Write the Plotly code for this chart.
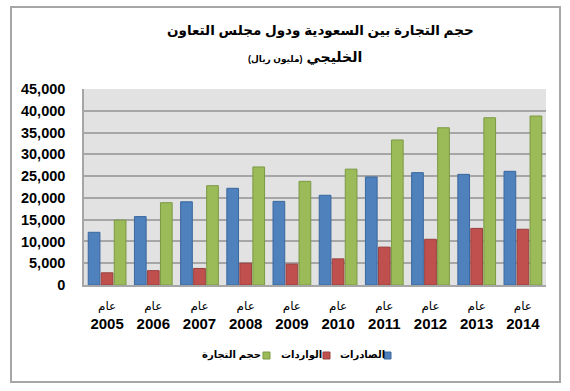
import plotly.graph_objects as go

years = ["2005", "2006", "2007", "2008", "2009", "2010", "2011", "2012", "2013", "2014"]
year_prefix = "عام"
exports = [12100, 15700, 19100, 22200, 19200, 20600, 24800, 25800, 25400, 26100]
imports = [2800, 3300, 3800, 5000, 4800, 6000, 8700, 10500, 13000, 12800]
trade = [14900, 18900, 22800, 27100, 23800, 26600, 33300, 36100, 38400, 38800]
series_names = ["الصادرات", "الواردات", "حجم التجارة"]
title_line1 = "حجم التجارة بين السعودية ودول مجلس التعاون"
title_line2a = "الخليجي"
title_line2b = "(مليون ريال)"

W, H = 570, 391
L, R, T, B = 84, 546, 89, 285
FONT = "Liberation Sans, Arial, DejaVu Sans"


def px(p):
    return (p - L) / (R - L)


def py(p):
    return (B - p) / (B - T)


colors = ["#4F81BD", "#C0504D", "#9BBB59"]
borders = ["#3A679E", "#98403D", "#7A9A43"]
values = [exports, imports, trade]

fig = go.Figure()
for name, vals, c, bc in zip(series_names, values, colors, borders):
    fig.add_trace(go.Bar(x=years, y=vals, name=name, marker=dict(color=c, line=dict(color=bc, width=1)),
                         showlegend=False))

ticktext = [f"<span style='font-size:12px;font-weight:normal'>{year_prefix}</span><br><b>{y}</b>" for y in years]

fig.update_layout(
    width=W, height=H,
    margin=dict(l=L, r=W - R, t=T, b=H - B, pad=0),
    paper_bgcolor="white",
    plot_bgcolor="#E2E2E2",
    barmode="group",
    bargap=0.155,
    bargroupgap=0.1,
    font=dict(family=FONT, color="black"),
    xaxis=dict(tickvals=years, ticktext=ticktext, tickfont=dict(family=FONT, size=15, weight="bold"),
               showline=True, linecolor="#A6A6A6", linewidth=1.5, ticks="", showgrid=False,
               ticklabelstandoff=5),
    yaxis=dict(range=[0, 45000], dtick=5000, tickformat=",",
               tickfont=dict(family=FONT, size=14.5, weight="bold"),
               showgrid=True, gridcolor="#A6A6A6", gridwidth=1.5, zeroline=False,
               showline=True, linecolor="#A6A6A6", linewidth=1.5, ticks="", ticklabelstandoff=14),
)

# outer chart border
fig.add_shape(type="rect", xref="paper", yref="paper",
              x0=px(11), x1=px(560), y0=py(382), y1=py(7),
              line=dict(color="#A6A6A6", width=2), fillcolor="rgba(0,0,0,0)", layer="below")

# title
fig.add_annotation(xref="paper", yref="paper", x=px(320), y=py(30), xanchor="center", yanchor="middle",
                   showarrow=False, text=f"<b>{title_line1}</b>", font=dict(size=13.5, color="black"))
fig.add_annotation(xref="paper", yref="paper", x=px(305), y=py(57), xanchor="center", yanchor="middle",
                   showarrow=False,
                   text=f"\u200F<b>{title_line2a}</b> <span style='font-size:9px'><b>{title_line2b}</b></span>\u200F",
                   font=dict(size=14, color="black"))

# custom right-to-left legend: text then square on its right
legend_sq = [384, 323, 263]
legend_txt_center = [362, 301.5, 231.5]
for name, c, bc, sx, tx in zip(series_names, colors, borders, legend_sq, legend_txt_center):
    fig.add_shape(type="rect", xref="paper", yref="paper",
                  x0=px(sx), x1=px(sx + 7), y0=py(359), y1=py(352),
                  line=dict(color=bc, width=1), fillcolor=c)
    fig.add_annotation(xref="paper", yref="paper", x=px(tx), y=py(355), xanchor="center", yanchor="middle",
                       showarrow=False, text=f"<b>{name}</b>", font=dict(size=10, color="black"))

fig.write_html("out.html", config={"displayModeBar": False},
               post_script="document.body.style.margin='0';document.body.style.padding='0';")
